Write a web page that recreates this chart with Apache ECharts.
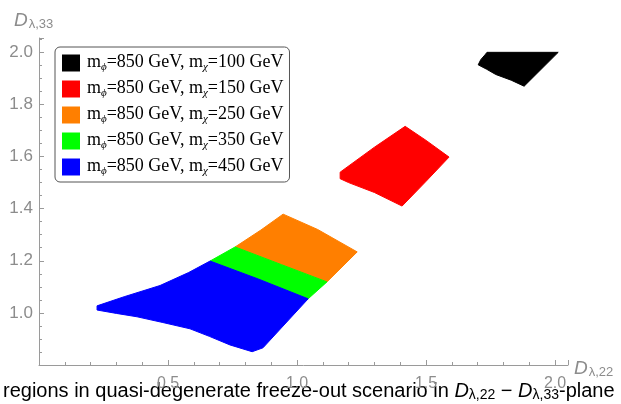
<!DOCTYPE html>
<html>
<head>
<meta charset="utf-8">
<script src="https://cdn.jsdelivr.net/npm/echarts@6/dist/echarts.min.js"></script>
<style>
  html, body { margin: 0; padding: 0; background: #fff; }
  #chart { width: 621px; height: 404px; }
</style>
</head>
<body>
<div id="chart"></div>
<script>
// Scalar-mediator masses (GeV) for each allowed region
const mPhi = 850;
const mChi = [100, 150, 250, 350, 450];
const regionColors = ['#000000', '#ff0000', '#ff7f00', '#00ff00', '#0000ff'];

// Boundary outlines of each allowed region in the (D_λ,22 , D_λ,33) plane
const region100 = [
  [1.736, 2.000], [2.012, 2.000], [1.880, 1.870], [1.830, 1.893],
  [1.770, 1.915], [1.735, 1.935], [1.702, 1.952], [1.712, 1.972], [1.728, 1.990]
];
const region150 = [
  [1.167, 1.540], [1.300, 1.636], [1.419, 1.716], [1.500, 1.662], [1.589, 1.598],
  [1.500, 1.505], [1.407, 1.410], [1.300, 1.462], [1.200, 1.500], [1.167, 1.515]
];
const region250 = [
  [0.760, 1.253], [0.860, 1.318], [0.946, 1.379], [1.080, 1.320],
  [1.233, 1.234], [1.116, 1.119], [0.940, 1.185]
];
const region350 = [
  [0.663, 1.199], [0.760, 1.253], [0.940, 1.185], [1.116, 1.119],
  [1.043, 1.054], [0.850, 1.130]
];
const region450 = [
  [0.225, 1.027], [0.330, 1.062], [0.469, 1.105], [0.580, 1.155], [0.663, 1.199],
  [0.850, 1.130], [1.043, 1.054], [0.868, 0.866], [0.826, 0.851],
  [0.740, 0.877], [0.660, 0.910], [0.585, 0.939], [0.480, 0.963], [0.380, 0.985],
  [0.300, 0.998], [0.225, 1.011]
];
const regions = [region100, region150, region250, region350, region450];

// Axis ranges and tick spacing
const xRange = [0, 2.05];
const yRange = [0.8, 2.055];
const xMajorStep = 0.5;
const yMajorStep = 0.2;
const xTickLabels = ['0.5', '1.0', '1.5', '2.0'];
const yTickLabels = ['1.0', '1.2', '1.4', '1.6', '1.8', '2.0'];

const seriesNames = mChi.map(m => 'mϕ=' + mPhi + ' GeV, mχ=' + m + ' GeV');

const chart = echarts.init(document.getElementById('chart'), null, { renderer: 'canvas' });

const axisGrey = '#9a9a9a';
const labelGrey = '#8c8c8c';

function polygonSeries(i) {
  return {
    type: 'custom',
    name: seriesNames[i],
    data: regions[i],
    encode: { x: 0, y: 1 },
    itemStyle: { color: regionColors[i] },
    clip: true,
    silent: true,
    renderItem: function (params, api) {
      if (params.dataIndexInside !== 0) return null;
      const pts = regions[i].map(p => api.coord(p));
      return {
        type: 'polygon',
        shape: { points: pts },
        style: { fill: regionColors[i], stroke: regionColors[i], lineWidth: 1 }
      };
    }
  };
}

const option = {
  animation: false,
  backgroundColor: '#ffffff',
  grid: { left: 39, right: 53, top: 38, bottom: 39, containLabel: false },
  xAxis: {
    type: 'value',
    min: xRange[0], max: xRange[1], interval: xMajorStep,
    axisLine: { show: true, onZero: false, lineStyle: { color: axisGrey, width: 1 } },
    axisTick: { show: true, inside: true, length: 5, lineStyle: { color: axisGrey } },
    minorTick: { show: true, splitNumber: 5, length: 3, lineStyle: { color: axisGrey } },
    splitLine: { show: false },
    axisLabel: {
      color: labelGrey, fontSize: 16, fontFamily: 'Liberation Sans', margin: 11,
      formatter: v => {
        const s = v.toFixed(1);
        return xTickLabels.includes(s) && Math.abs(v - parseFloat(s)) < 1e-6 ? s : '';
      }
    }
  },
  yAxis: {
    type: 'value',
    min: yRange[0], max: yRange[1], interval: yMajorStep,
    axisLine: { show: true, onZero: false, lineStyle: { color: axisGrey, width: 1 } },
    axisTick: { show: true, inside: true, length: 5, lineStyle: { color: axisGrey } },
    minorTick: { show: true, splitNumber: 4, length: 3, lineStyle: { color: axisGrey } },
    splitLine: { show: false },
    axisLabel: {
      color: labelGrey, fontSize: 17, fontFamily: 'Liberation Sans', margin: 6,
      formatter: v => {
        const s = v.toFixed(1);
        return yTickLabels.includes(s) && Math.abs(v - parseFloat(s)) < 1e-6 ? s : '';
      }
    }
  },
  legend: {
    orient: 'vertical',
    left: 55, top: 47,
    padding: [6, 6, 5, 7],
    itemWidth: 18, itemHeight: 17, itemGap: 6,
    icon: 'rect',
    borderColor: '#555', borderWidth: 1, borderRadius: 5,
    backgroundColor: '#ffffff',
    selectedMode: false,
    data: seriesNames,
    formatter: name => {
      const i = seriesNames.indexOf(name);
      return '{m|m}{s|ϕ}{m|=' + mPhi + ' GeV, m}{s|χ}{m|=' + mChi[i] + ' GeV}';
    },
    textStyle: {
      fontFamily: 'Liberation Serif', fontSize: 18, color: '#000', padding: [0, 0, 0, 2],
      rich: {
        m: { fontFamily: 'Liberation Serif', fontSize: 18, color: '#000', verticalAlign: 'top', lineHeight: 20 },
        s: { fontFamily: 'Liberation Serif', fontSize: 11, fontStyle: 'italic', color: '#000',
             verticalAlign: 'bottom', lineHeight: 13, padding: [9, 0, 0, 0] }
      }
    }
  },
  graphic: [
    {
      type: 'text', left: 14, top: 8, silent: true,
      style: {
        text: '{d|D}{s|λ,33}',
        rich: {
          d: { fontFamily: 'Liberation Sans', fontStyle: 'italic', fontSize: 19, fill: labelGrey, verticalAlign: 'top', lineHeight: 20 },
          s: { fontFamily: 'Liberation Sans', fontSize: 13, fill: labelGrey, verticalAlign: 'bottom', lineHeight: 14, padding: [10, 0, 0, 1] }
        }
      }
    },
    {
      type: 'text', left: 574, top: 356, silent: true,
      style: {
        text: '{d|D}{s|λ,22}',
        rich: {
          d: { fontFamily: 'Liberation Sans', fontStyle: 'italic', fontSize: 19, fill: labelGrey, verticalAlign: 'top', lineHeight: 20 },
          s: { fontFamily: 'Liberation Sans', fontSize: 13, fill: labelGrey, verticalAlign: 'bottom', lineHeight: 14, padding: [10, 0, 0, 1] }
        }
      }
    },
    {
      type: 'text', left: 3, top: 378, silent: true,
      style: {
        text: '{t|regions in quasi-degenerate freeze-out scenario in }{d|D}{s|λ,22}{t| − }{d|D}{s|λ,33}{t|-plane}',
        rich: {
          t: { fontFamily: 'Liberation Sans', fontSize: 20, fill: '#000', verticalAlign: 'top', lineHeight: 21 },
          d: { fontFamily: 'Liberation Sans', fontStyle: 'italic', fontSize: 20, fill: '#000', verticalAlign: 'top', lineHeight: 21 },
          s: { fontFamily: 'Liberation Sans', fontSize: 14, fill: '#000', verticalAlign: 'bottom', lineHeight: 15, padding: [10, 0, 0, 0] }
        }
      }
    }
  ],
  series: [0, 1, 2, 3, 4].map(polygonSeries)
};

chart.setOption(option);
</script>
</body>
</html>
